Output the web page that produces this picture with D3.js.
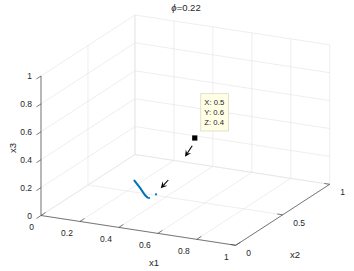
<!DOCTYPE html>
<html>
<head>
<meta charset="utf-8">
<script src="https://cdn.jsdelivr.net/npm/d3@7"></script>
<style>
  body { margin: 0; background: #fff; }
  text { font-family: "Liberation Sans", Arial, sans-serif; fill: #262626; }
</style>
</head>
<body>
<svg id="chart" width="354" height="271"></svg>
<script>
// chart data
const titleText = '=0.22';
const x1Ticks = [0, 0.2, 0.4, 0.6, 0.8, 1];
const x2Ticks = [0, 0.5, 1];
const x3Ticks = [0, 0.2, 0.4, 0.6, 0.8, 1];
const x1TickLabels = ['0', '0.2', '0.4', '0.6', '0.8', '1'];
const x2TickLabels = ['0', '0.5', '1'];
const x3TickLabels = ['0', '0.2', '0.4', '0.6', '0.8', '1'];

// trajectory (x1, x2, x3)
const trajLine = [[0.335, 0.3, 0.191], [0.364, 0.3, 0.144], [0.389, 0.3, 0.099], [0.402, 0.3, 0.084]];
const trajDots = [[0.410, 0.3, 0.082], [0.446, 0.3, 0.116]];

// quiver arrows: base point and vector
const arrowBase = [[0.487, 0.6, 0.342], [0.509, 0.3, 0.232]];
const arrowVec = [[-0.037, 0, -0.087], [-0.039, 0, -0.068]];

// data tip point
const tipPoint = [0.5, 0.6, 0.4];
const tipLabels = ['X: 0.5', 'Y: 0.6', 'Z: 0.4'];

const svg = d3.select('#chart');

// 3-D view: each axis maps to a screen vector
const origin = {x: 41, y: 215.5};
const x1Scale = d3.scaleLinear().domain([0, 1]).range([0, 1]);
const x2Scale = d3.scaleLinear().domain([0, 1]).range([0, 1]);
const x3Scale = d3.scaleLinear().domain([0, 1]).range([0, 1]);
const e1 = {x: 194.7, y: 29.8};
const e2 = {x: 94, y: -61};
const e3 = {x: 0, y: -139.5};

function project(p){
  let a = x1Scale(p[0]), b = x2Scale(p[1]), c = x3Scale(p[2]);
  return {
    x: origin.x + a*e1.x + b*e2.x + c*e3.x,
    y: origin.y + a*e1.y + b*e2.y + c*e3.y
  };
}

function seg(p, q, color, width){
  let a = project(p), b = project(q);
  svg.append('line')
     .attr('x1', a.x).attr('y1', a.y)
     .attr('x2', b.x).attr('y2', b.y)
     .attr('stroke', color)
     .attr('stroke-width', width)
     .attr('fill', 'none');
}

// grid on the three back planes
const gridColor = '#e3e3e3';
for(let t of x1Ticks){
  seg([t, 0, 0], [t, 1, 0], gridColor, 0.6);
  seg([t, 1, 0], [t, 1, 1], gridColor, 0.6);
}
for(let t of x2Ticks){
  seg([0, t, 0], [1, t, 0], gridColor, 0.6);
  seg([0, t, 0], [0, t, 1], gridColor, 0.6);
}
for(let t of x3Ticks){
  seg([0, 0, t], [0, 1, t], gridColor, 0.6);
  seg([0, 1, t], [1, 1, t], gridColor, 0.6);
}

// axis lines
const axisColor = '#444';
seg([0, 0, 0], [1, 0, 0], axisColor, 0.7);
seg([1, 0, 0], [1, 1, 0], axisColor, 0.7);
seg([0, 0, 0], [0, 0, 1], axisColor, 0.7);

// ticks and tick labels
const tickLen = 5.5;
function unit(v){ let n = Math.hypot(v.x, v.y); return {x: v.x/n, y: v.y/n}; }
const u2 = unit(e2), u1 = unit(e1);

x1Ticks.forEach((t, i) => {
  let p = project([t, 0, 0]);
  svg.append('line')
     .attr('x1', p.x).attr('y1', p.y)
     .attr('x2', p.x + u2.x*tickLen).attr('y2', p.y + u2.y*tickLen)
     .attr('stroke', axisColor).attr('stroke-width', 0.7);
  svg.append('text')
     .attr('x', p.x - 7).attr('y', p.y + 14.5)
     .attr('text-anchor', 'end')
     .attr('font-size', '8.5px')
     .text(x1TickLabels[i]);
});

x2Ticks.forEach((t, i) => {
  let p = project([1, t, 0]);
  svg.append('line')
     .attr('x1', p.x).attr('y1', p.y)
     .attr('x2', p.x - u1.x*tickLen).attr('y2', p.y - u1.y*tickLen)
     .attr('stroke', axisColor).attr('stroke-width', 0.7);
  svg.append('text')
     .attr('x', p.x + 10.5).attr('y', p.y + 11)
     .attr('text-anchor', 'start')
     .attr('font-size', '8.5px')
     .text(x2TickLabels[i]);
});

x3Ticks.forEach((t, i) => {
  let p = project([0, 0, t]);
  svg.append('line')
     .attr('x1', p.x).attr('y1', p.y)
     .attr('x2', p.x - u2.x*tickLen).attr('y2', p.y - u2.y*tickLen)
     .attr('stroke', axisColor).attr('stroke-width', 0.7);
  svg.append('text')
     .attr('x', p.x - 9).attr('y', p.y + 3)
     .attr('text-anchor', 'end')
     .attr('font-size', '8.5px')
     .text(x3TickLabels[i]);
});

// axis labels
svg.append('text')
   .attr('x', 154).attr('y', 265.5)
   .attr('text-anchor', 'middle')
   .attr('font-size', '9.5px')
   .text('x1');
svg.append('text')
   .attr('x', 295).attr('y', 257.5)
   .attr('text-anchor', 'middle')
   .attr('font-size', '9.5px')
   .text('x2');
svg.append('text')
   .attr('transform', 'translate(15.5,148) rotate(-90)')
   .attr('text-anchor', 'middle')
   .attr('font-size', '9.5px')
   .text('x3');

// title
let title = svg.append('text')
   .attr('x', 186).attr('y', 11)
   .attr('text-anchor', 'middle')
   .attr('font-size', '9.5px');
title.append('tspan').attr('font-style', 'italic').text('\u03D5');
title.append('tspan').text(titleText);

// trajectory
const blue = '#0072BD';
let lineFunction = d3.line()
  .x(d => project(d).x)
  .y(d => project(d).y);
svg.append('path')
   .attr('d', lineFunction(trajLine))
   .attr('stroke', blue)
   .attr('stroke-width', 2)
   .attr('stroke-linecap', 'round')
   .attr('fill', 'none');
svg.selectAll()
   .data(trajDots)
   .enter()
   .append('circle')
   .attr('cx', d => project(d).x)
   .attr('cy', d => project(d).y)
   .attr('r', 1.1)
   .attr('fill', blue);

// quiver arrows
arrowBase.forEach((b, i) => {
  let v = arrowVec[i];
  let a = project(b);
  let tip = project([b[0]+v[0], b[1]+v[1], b[2]+v[2]]);
  let d = unit({x: tip.x - a.x, y: tip.y - a.y});
  let n = {x: -d.y, y: d.x};
  let hl = 6.5, hw = 3.2;
  let back = {x: tip.x - d.x*hl, y: tip.y - d.y*hl};
  let notch = {x: tip.x - d.x*hl*0.6, y: tip.y - d.y*hl*0.6};
  svg.append('line')
     .attr('x1', a.x).attr('y1', a.y)
     .attr('x2', notch.x).attr('y2', notch.y)
     .attr('stroke', '#000').attr('stroke-width', 1.1);
  svg.append('path')
     .attr('d', 'M' + tip.x + ',' + tip.y +
                'L' + (back.x + n.x*hw) + ',' + (back.y + n.y*hw) +
                'L' + notch.x + ',' + notch.y +
                'L' + (back.x - n.x*hw) + ',' + (back.y - n.y*hw) + 'Z')
     .attr('fill', '#000');
});

// data tip
let tp = project(tipPoint);
svg.append('rect')
   .attr('x', tp.x - 2.6).attr('y', tp.y - 2.6)
   .attr('width', 5.2).attr('height', 5.2)
   .attr('fill', '#000');
svg.append('rect')
   .attr('x', tp.x + 6).attr('y', tp.y - 44.3)
   .attr('width', 27.6).attr('height', 37.3)
   .attr('fill', '#ffffe6')
   .attr('stroke', '#d9d9c0')
   .attr('stroke-width', 0.8);
tipLabels.forEach((s, i) => {
  svg.append('text')
     .attr('x', tp.x + 9.5).attr('y', tp.y - 33.5 + i*10.3)
     .attr('font-size', '7.7px')
     .text(s);
});
</script>
</body>
</html>
